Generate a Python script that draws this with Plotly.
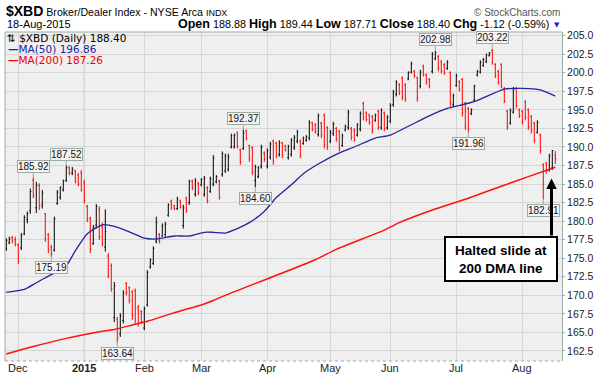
import plotly.graph_objects as go
import pandas as pd

# ---------------- data ----------------
holidays = ["2014-11-27", "2014-12-25", "2015-01-01", "2015-01-19",
            "2015-02-16", "2015-04-03", "2015-05-25", "2015-07-03"]
dates = pd.bdate_range("2014-11-24", "2015-08-18", freq="C", holidays=holidays)

open_ = [176.3,177.1,177.8,177.5,176.8,176.4,178.3,180.2,181.4,185.5,
         181.8,184.8,182.2,181.0,178.2,176.5,176.1,182.4,183.2,184.2,
         185.5,187.2,186.5,186.8,186.2,186.5,185.2,182.0,180.4,177.0,
         179.5,181.6,179.2,176.5,175.3,174.0,167.0,166.8,164.8,166.6,
         171.6,171.0,170.5,170.6,168.4,167.8,165.6,168.7,173.8,174.3,
         177.3,178.2,178.0,178.2,180.8,182.7,182.1,181.7,182.7,179.4,
         183.1,182.5,185.4,183.6,185.1,184.9,183.6,184.5,184.0,185.0,
         185.3,185.4,186.3,186.8,187.0,190.0,190.0,191.9,189.6,189.8,
         192.2,190.2,189.9,185.5,186.0,187.4,189.2,187.4,188.6,190.8,
         190.5,189.0,190.5,190.1,188.6,189.0,189.9,190.8,190.8,190.5,
         190.9,191.2,193.2,193.0,191.7,193.2,194.3,192.6,190.8,191.8,
         192.5,192.1,190.2,192.3,192.6,192.5,192.3,191.6,192.4,195.9,
         194.6,194.3,194.1,193.6,194.8,192.6,194.6,192.6,193.5,195.7,
         197.1,198.4,199.3,198.4,199.2,200.1,200.2,199.3,198.2,200.9,
         199.7,199.1,200.2,201.9,202.2,201.5,201.1,200.6,200.0,195.7,
         198.3,198.8,199.1,195.9,195.2,194.5,196.3,199.7,200.1,201.0,
         201.5,202.3,203.0,201.1,200.2,201.1,197.9,194.8,193.2,194.7,
         197.9,195.0,194.8,196.1,195.0,194.1,193.2,192.0,191.6,187.6,
         187.8,186.9,187.2,188.88]
high = [177.7,177.9,178.0,177.9,177.0,178.4,180.8,181.3,184.4,185.92,
        185.3,185.1,184.2,181.1,178.4,176.8,180.6,184.2,184.7,185.6,
        187.52,187.4,187.3,186.9,186.5,186.9,185.6,182.2,180.6,179.5,
        182.3,182.0,179.8,181.6,175.7,174.3,171.8,167.1,167.6,170.7,
        171.8,171.2,170.7,170.9,168.7,168.0,168.5,173.4,175.0,176.6,
        180.6,178.4,179.7,179.9,182.4,182.9,182.2,183.3,182.9,182.2,
        183.3,185.6,185.6,185.8,185.3,185.8,186.1,184.7,186.0,188.9,
        186.2,185.6,189.4,189.1,189.1,191.8,191.8,192.1,189.8,192.37,
        192.3,190.3,190.1,187.6,187.4,190.3,189.4,189.8,190.7,191.0,
        190.7,190.9,190.7,190.3,190.3,191.2,191.6,192.3,191.0,191.4,
        191.6,193.6,193.4,193.2,194.5,193.4,194.5,192.8,192.3,193.4,
        192.7,192.3,191.8,193.0,195.0,192.7,192.5,193.2,194.8,196.1,
        194.8,194.5,194.3,194.5,195.0,195.2,194.8,194.3,195.9,197.7,
        199.0,198.6,199.5,198.6,200.2,201.5,200.4,199.5,200.4,201.1,
        199.9,199.3,202.8,202.98,202.4,201.7,201.3,201.7,200.2,197.2,
        199.9,199.0,199.3,196.1,195.4,195.2,198.4,200.4,201.7,202.0,
        202.6,202.8,203.22,201.3,200.4,201.3,198.1,195.0,195.2,198.1,
        198.1,195.2,195.0,196.3,195.2,194.3,193.4,193.6,191.8,187.8,
        188.0,189.1,189.6,189.44]
low = [176.0,176.9,177.0,176.6,174.2,176.1,178.1,179.7,181.0,183.1,
       181.1,181.5,181.7,177.2,175.7,175.19,175.9,182.2,182.9,184.0,
       185.3,186.2,186.2,185.1,184.7,184.0,182.4,179.9,175.7,176.8,
       179.0,177.5,176.6,175.9,172.3,170.5,166.4,163.64,164.4,166.2,
       170.0,168.9,166.7,166.2,165.8,166.2,165.3,168.5,173.6,174.1,
       177.0,177.0,177.9,177.9,180.6,181.5,181.5,181.5,181.7,179.0,
       181.1,182.2,184.2,183.3,183.5,184.7,183.3,182.4,183.8,184.7,
       185.1,182.9,186.0,186.5,186.7,189.8,189.8,189.8,187.6,189.6,
       190.9,188.0,186.2,184.60,185.8,187.1,188.0,187.1,188.3,187.6,
       188.5,188.7,188.5,189.4,188.3,188.7,189.6,190.5,188.5,190.3,
       190.7,190.9,192.1,191.8,191.4,191.2,189.8,189.6,190.5,191.5,
       190.7,189.4,190.0,192.1,192.3,190.9,190.7,191.4,192.1,193.6,
       193.4,193.0,191.8,193.4,192.3,192.3,192.1,192.3,193.2,195.4,
       196.8,197.0,196.3,196.1,199.0,199.9,199.3,196.1,197.9,199.5,
       198.4,197.9,199.9,201.7,200.2,199.9,199.7,200.4,195.4,195.4,
       198.1,197.5,194.1,192.3,191.96,194.3,196.1,199.5,199.9,200.8,
       201.3,202.2,201.1,199.3,198.4,197.9,195.9,192.3,193.0,194.5,
       195.2,193.9,193.0,193.6,192.3,191.8,190.5,191.8,189.1,182.91,
       186.4,186.7,186.9,187.71]
close = [177.4,177.6,177.3,176.9,174.6,178.1,180.5,181.0,184.0,183.5,
         184.9,182.0,183.8,177.6,176.2,175.6,180.3,183.9,184.5,185.4,
         187.2,186.5,187.0,185.4,185.0,184.2,182.8,180.2,176.2,179.2,
         182.0,177.9,177.0,178.6,172.6,170.9,171.3,164.2,167.2,170.3,
         170.4,169.4,167.3,168.2,166.2,166.5,168.2,173.1,174.8,176.3,
         179.8,177.3,179.4,179.6,182.2,181.8,181.7,183.0,181.9,181.8,
         181.5,185.3,184.5,185.5,183.8,185.6,185.8,182.8,185.7,188.5,
         186.0,183.2,189.1,188.8,188.7,191.5,191.6,190.1,188.0,191.9,
         191.2,188.4,186.6,187.3,187.2,190.0,188.3,189.5,190.4,188.1,
         188.8,190.6,188.9,189.6,190.1,190.9,191.3,192.0,188.8,191.2,
         191.4,193.3,192.4,192.1,194.2,191.6,190.3,190.0,192.0,193.1,
         191.1,189.8,191.5,192.8,194.7,191.3,191.0,193.0,194.5,194.0,
         193.7,193.3,192.2,194.3,192.7,194.9,192.5,194.0,195.6,197.4,
         198.7,197.3,196.7,196.5,200.0,201.2,199.6,196.6,200.1,199.8,
         198.8,198.2,202.5,202.7,200.6,200.2,200.0,201.4,195.9,196.9,
         199.6,197.8,194.6,192.8,192.4,195.0,198.2,200.2,201.4,201.8,
         202.4,202.7,201.4,199.6,198.7,198.2,196.2,192.7,194.9,197.8,
         195.6,194.2,193.4,194.0,192.7,192.2,190.9,193.3,189.5,186.9,
         186.8,188.8,189.52,188.40]

# moving averages, read at sampled trading-day positions
ma50_pos = [0,6,10,15,19,23,27,32,36,42,46,50,56,61,66,69,73,77,81,86,
            90,95,99,104,110,116,123,128,135,141,147,156,166,172,178,183]
ma50_val = [170.4,170.8,171.7,172.8,173.4,176.0,178.3,179.5,179.3,178.4,
            177.7,177.6,178.0,178.0,178.5,178.5,178.4,179.0,179.8,181.3,
            183.2,184.9,186.4,187.7,189.0,190.0,191.2,191.6,193.0,194.2,
            195.2,196.1,197.8,197.9,197.7,196.86]
ma200_pos = [0,9,20,31,36,42,47,54,58,65,69,73,103,110,126,131,142,154,165,174,183]
ma200_val = [162.1,163.1,164.2,165.1,165.4,166.0,166.5,167.4,167.9,168.7,169.3,
             170.0,174.8,176.2,178.8,179.8,181.5,183.1,184.7,186.0,187.26]

month_labels = ["Dec", "<b>2015</b>", "Feb", "Mar", "Apr", "May", "Jun", "Jul", "Aug"]
label_high_pos = [9, 20, 79, 143, 162]
label_low_pos = [15, 37, 83, 154, 179]

# ---------------- figure ----------------
n = len(dates)
xpos = list(range(n))
month_pos = [i for i in range(1, n) if dates[i].month != dates[i - 1].month]

W, H = 596, 377
PL, PT, PW, PH = 5, 32, 557, 329


def px(xp):
    return (xp - PL) / PW


def py(yp):
    return (PT + PH - yp) / PH


FONT = "Liberation Sans, Arial, sans-serif"
FRAME = "#9aaca4"

fig = go.Figure()
fig.add_trace(go.Ohlc(
    x=xpos, open=open_, high=high, low=low, close=close,
    increasing=dict(line=dict(color="black", width=1)),
    decreasing=dict(line=dict(color="#ff0000", width=1)),
    tickwidth=0.34, hoverinfo="skip"))
fig.add_trace(go.Scatter(
    x=ma50_pos, y=ma50_val, mode="lines",
    line=dict(color="#24249a", width=1.3, shape="spline", smoothing=0.6),
    hoverinfo="skip"))
fig.add_trace(go.Scatter(
    x=ma200_pos, y=ma200_val, mode="lines",
    line=dict(color="#ff1010", width=1.5, shape="spline", smoothing=0.6),
    hoverinfo="skip"))

ann = []
# value callouts
for i in label_high_pos:
    ann.append(dict(x=i, y=high[i], xref="x", yref="y", text="%.2f" % high[i],
                    showarrow=True, arrowhead=0, arrowwidth=1, arrowcolor=FRAME,
                    ax=0, ay=-11, bgcolor="#f4f4f4", bordercolor=FRAME,
                    borderwidth=1, borderpad=0,
                    font=dict(family=FONT, size=10, color="#111")))
for i in label_low_pos:
    ann.append(dict(x=i, y=low[i], xref="x", yref="y", text="%.2f" % low[i],
                    showarrow=True, arrowhead=0, arrowwidth=1, arrowcolor=FRAME,
                    ax=0, ay=11, bgcolor="#f4f4f4", bordercolor=FRAME,
                    borderwidth=1, borderpad=0,
                    font=dict(family=FONT, size=10, color="#111")))

# month labels under the axis
for p, lab in zip(month_pos, month_labels):
    ann.append(dict(x=p, y=py(368), xref="x", yref="paper", xanchor="center", yanchor="middle",
                    text=lab, showarrow=False, font=dict(family=FONT, size=11, color="#222")))

# header texts
ann += [
    dict(x=px(4), y=py(11), xref="paper", yref="paper", xanchor="left", yanchor="middle",
         text=('<span style="font-size:14px"><b>$XBD</b></span> Broker/Dealer Index - NYSE Arca '
               '<span style="font-size:9px">INDX</span>'),
         showarrow=False, font=dict(family=FONT, size=10.6, color="black")),
    dict(x=px(5), y=py(24), xref="paper", yref="paper", xanchor="left", yanchor="middle",
         text="18-Aug-2015", showarrow=False, font=dict(family=FONT, size=11, color="black")),
    dict(x=px(551), y=py(24), xref="paper", yref="paper", xanchor="right", yanchor="middle",
         text=('<span style="font-size:12.5px"><b>Open</b></span> 188.88 '
               '<span style="font-size:12.5px"><b>High</b></span> 189.44 '
               '<span style="font-size:12.5px"><b>Low</b></span> 187.71 '
               '<span style="font-size:12.5px"><b>Close</b></span> 188.40 '
               '<span style="font-size:12.5px"><b>Chg</b></span> -1.12 (-0.59%)'),
         showarrow=False, font=dict(family=FONT, size=10.8, color="black")),
    dict(x=px(557), y=py(24.5), xref="paper", yref="paper", xanchor="center", yanchor="middle",
         text="▼", showarrow=False, font=dict(family="DejaVu Sans", size=7, color="#2222dd")),
    dict(x=px(562), y=py(12), xref="paper", yref="paper", xanchor="right", yanchor="middle",
         text="© StockCharts.com", showarrow=False, font=dict(family=FONT, size=10, color="#555")),
    # in-plot legend
    dict(x=px(5), y=py(37.5), xref="paper", yref="paper", xanchor="left", yanchor="middle",
         text="⇅ $XBD (Daily) 188.40", showarrow=False,
         font=dict(family="DejaVu Sans", size=10.5, color="black")),
    dict(x=px(6), y=py(48.5), xref="paper", yref="paper", xanchor="left", yanchor="middle",
         text="<b>—</b>MA(50) 196.86", showarrow=False,
         font=dict(family="DejaVu Sans", size=10.5, color="#1c1c9c")),
    dict(x=px(6), y=py(60), xref="paper", yref="paper", xanchor="left", yanchor="middle",
         text="<b>—</b>MA(200) 187.26", showarrow=False,
         font=dict(family="DejaVu Sans", size=10.5, color="#ee0000")),
    # callout text box
    dict(x=px(501), y=py(259), xref="paper", yref="paper", xanchor="center", yanchor="middle",
         text="<b>Halted slide at<br>200 DMA line</b>", showarrow=False,
         font=dict(family=FONT, size=13.5, color="black")),
    # thick arrow
    dict(x=px(551.5), y=py(178.5), xref="paper", yref="paper", text="",
         showarrow=True, arrowhead=2, arrowsize=0.7, arrowwidth=3, arrowcolor="black",
         ax=0, ay=58.5),
]

shapes = [
    # year boundary gridline (darker)
    dict(type="line", xref="x", yref="paper", x0=month_pos[1], x1=month_pos[1], y0=0, y1=1,
         line=dict(color="#b4b4b4", width=1), layer="below"),
    # frame
    dict(type="line", xref="paper", yref="paper", x0=0, x1=0, y0=0, y1=1,
         line=dict(color=FRAME, width=1)),
    dict(type="line", xref="paper", yref="paper", x0=0, x1=1, y0=1, y1=1,
         line=dict(color=FRAME, width=1)),
    dict(type="line", xref="paper", yref="paper", x0=0, x1=1, y0=0, y1=0,
         line=dict(color=FRAME, width=1, dash="dot")),
    # callout box
    dict(type="rect", xref="paper", yref="paper", x0=px(445), x1=px(557), y0=py(281), y1=py(237),
         line=dict(color="black", width=2), fillcolor="white", layer="above"),
]

fig.update_layout(
    width=W, height=H, autosize=False,
    margin=dict(l=PL, r=W - PL - PW, t=PT, b=H - PT - PH, autoexpand=False),
    paper_bgcolor="white", plot_bgcolor="#efefef",
    showlegend=False,
    xaxis=dict(range=[-0.43, 185.23], tickmode="array", tickvals=month_pos,
               showticklabels=False, automargin=False,
               showgrid=True, gridcolor="#d6d6d6", gridwidth=1, zeroline=False, showline=False,
               ticks="", rangeslider=dict(visible=False), fixedrange=True),
    yaxis=dict(side="right", range=[161.15, 205.5], tick0=162.5, dtick=2.5, tickformat=".1f",
               automargin=False,
               showgrid=True, gridcolor="#d6d6d6", gridwidth=1, zeroline=False,
               ticks="outside", ticklen=2, tickcolor=FRAME, showline=True, linecolor=FRAME,
               tickfont=dict(family=FONT, size=10.5, color="#222"), fixedrange=True),
    annotations=ann, shapes=shapes,
)

fig.write_html("out.html", config={"displayModeBar": False},
               post_script="document.body.style.margin='0px';document.body.style.padding='0px';")
